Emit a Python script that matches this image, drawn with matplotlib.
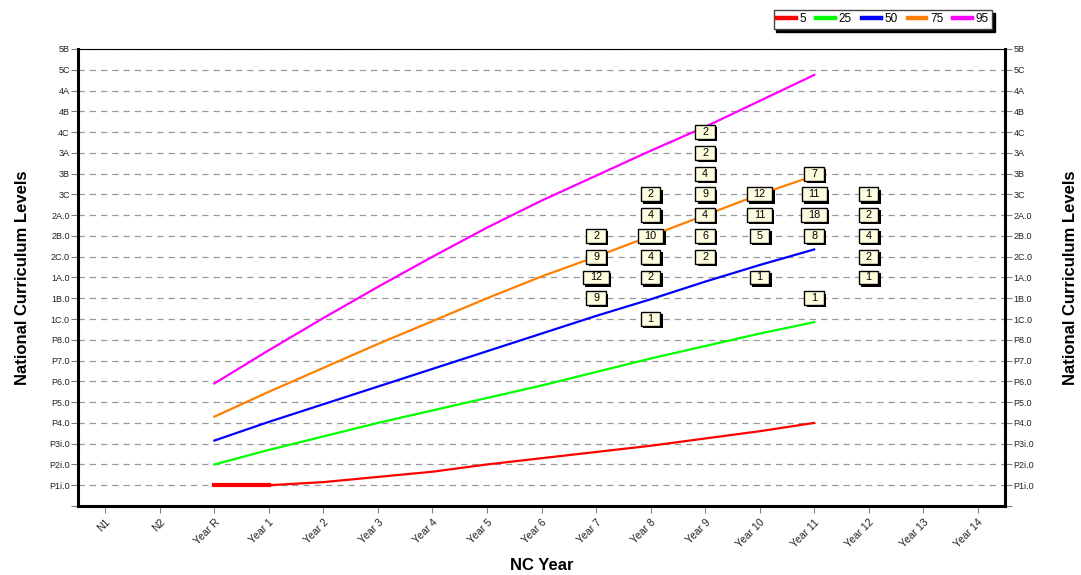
import matplotlib
matplotlib.use("Agg")
import matplotlib.pyplot as plt
import matplotlib.patheffects as pe
from matplotlib.path import Path

# x categories and y levels
years = ["N1", "N2", "Year R", "Year 1", "Year 2", "Year 3", "Year 4", "Year 5", "Year 6",
         "Year 7", "Year 8", "Year 9", "Year 10", "Year 11", "Year 12", "Year 13", "Year 14"]
levels = ["", "P1i.0", "P2i.0", "P3i.0", "P4.0", "P5.0", "P6.0", "P7.0", "P8.0", "1C.0", "1B.0",
          "1A.0", "2C.0", "2B.0", "2A.0", "3C", "3B", "3A", "4C", "4B", "4A", "5C", "5B"]

# percentile lines, Year R .. Year 11
line_years = ["Year R", "Year 1", "Year 2", "Year 3", "Year 4", "Year 5", "Year 6",
              "Year 7", "Year 8", "Year 9", "Year 10", "Year 11"]
p5 = [1.0, 1.0, 1.15, 1.4, 1.65, 2.0, 2.3, 2.6, 2.9, 3.25, 3.6, 4.0]
p25 = [2.0, 2.7, 3.35, 4.0, 4.6, 5.2, 5.8, 6.45, 7.1, 7.7, 8.3, 8.85]
p50 = [3.15, 4.05, 4.9, 5.75, 6.6, 7.45, 8.3, 9.15, 9.95, 10.8, 11.6, 12.35]
p75 = [4.3, 5.5, 6.65, 7.8, 8.9, 10.0, 11.05, 12.0, 13.0, 14.0, 15.0, 15.9]
p95 = [5.9, 7.5, 9.05, 10.55, 12.0, 13.4, 14.7, 15.9, 17.1, 18.25, 19.5, 20.75]

series = [("5", p5, "#FF0000"), ("25", p25, "#00FF00"), ("50", p50, "#0000FF"),
          ("75", p75, "#FF8000"), ("95", p95, "#FF00FF")]

# pupil counts: (year, level, count)
counts = [
    ("Year 7", "2B.0", 2), ("Year 7", "2C.0", 9), ("Year 7", "1A.0", 12), ("Year 7", "1B.0", 9),
    ("Year 8", "3C", 2), ("Year 8", "2A.0", 4), ("Year 8", "2B.0", 10), ("Year 8", "2C.0", 4),
    ("Year 8", "1A.0", 2), ("Year 8", "1C.0", 1),
    ("Year 9", "4C", 2), ("Year 9", "3A", 2), ("Year 9", "3B", 4), ("Year 9", "3C", 9),
    ("Year 9", "2A.0", 4), ("Year 9", "2B.0", 6), ("Year 9", "2C.0", 2),
    ("Year 10", "3C", 12), ("Year 10", "2A.0", 11), ("Year 10", "2B.0", 5), ("Year 10", "1A.0", 1),
    ("Year 11", "3B", 7), ("Year 11", "3C", 11), ("Year 11", "2A.0", 18), ("Year 11", "2B.0", 8),
    ("Year 11", "1B.0", 1),
    ("Year 12", "3C", 1), ("Year 12", "2A.0", 2), ("Year 12", "2B.0", 4), ("Year 12", "2C.0", 2),
    ("Year 12", "1A.0", 1),
]


def count_box(x0, y0, width, height, mutation_size):
    # wider than tall padding, like the original label boxes
    px = 0.62 * mutation_size
    py = 0.18 * mutation_size
    x0, y0 = x0 - px, y0 - py
    x1, y1 = x0 + width + 2 * px, y0 + height + 2 * py
    return Path([(x0, y0), (x1, y0), (x1, y1), (x0, y1), (x0, y0)], closed=True)


plt.rcParams['font.family'] = ['Liberation Sans', 'DejaVu Sans']

fig = plt.figure(figsize=(10.81, 5.75), dpi=100)
ax = fig.add_axes([0.0722, 0.12, 0.8575, 0.7948])

xi = [years.index(y) for y in line_years]
handles = []
for name, vals, col in series:
    h, = ax.plot(xi, vals, color=col, lw=1.6, label=name, zorder=3)
    handles.append(h)
# thicker flat start of the 5th percentile
ax.plot(xi[:2], p5[:2], color="#FF0000", lw=3, zorder=3)

box_shadow = [pe.SimplePatchShadow(offset=(1.6, -1.6), shadow_rgbFace='black', alpha=1), pe.Normal()]
for yr, lv, n in counts:
    ax.text(years.index(yr), levels.index(lv), str(n), ha='center', va='center',
            fontsize=7.8, color='black', zorder=5,
            bbox=dict(boxstyle=count_box, fc='#FFFDE0', ec='black', lw=1,
                      path_effects=box_shadow))

ax.set_xlim(-0.5, len(years) - 0.5)
ax.set_ylim(0, len(levels) - 1)
ax.set_xticks(range(len(years)))
ax.set_xticklabels(years, rotation=45, ha='right', rotation_mode='anchor', fontsize=7.5)
ax.set_yticks(range(len(levels)))
ax.set_yticklabels(levels, fontsize=6.5)
ax.tick_params(axis='both', direction='out', length=5, color='#808080', labelcolor='#222222', pad=1)
ax.tick_params(axis='x', pad=3)
ax.tick_params(axis='y', left=True, right=True, labelleft=True, labelright=True)
ax.yaxis.grid(True, linestyle=(0, (5, 4)), color='#999999', lw=0.9)
ax.set_axisbelow(True)

for side in ['left', 'bottom', 'right']:
    ax.spines[side].set_linewidth(2.2)
ax.spines['top'].set_linewidth(0.8)

ax.set_xlabel("NC Year", fontsize=12, fontweight='bold', labelpad=6)
ax.set_ylabel("National Curriculum Levels", fontsize=12, fontweight='bold', labelpad=14)
fig.text(0.99, 0.12 + 0.7948 / 2, "National Curriculum Levels", rotation=90, fontsize=12,
         fontweight='bold', ha='center', va='center')

leg = fig.legend(handles=handles, ncol=5, loc='upper right', bbox_to_anchor=(0.918, 0.983),
                 fontsize=8.5, frameon=True, fancybox=False, edgecolor='#444444',
                 shadow={'color': 'black', 'alpha': 1}, handlelength=1.6, handletextpad=0.3,
                 columnspacing=0.85, borderpad=0.3, borderaxespad=0)
leg.get_frame().set_linewidth(1.0)
for l in leg.get_lines():
    l.set_linewidth(3.2)

fig.savefig("out.png", dpi=100)
